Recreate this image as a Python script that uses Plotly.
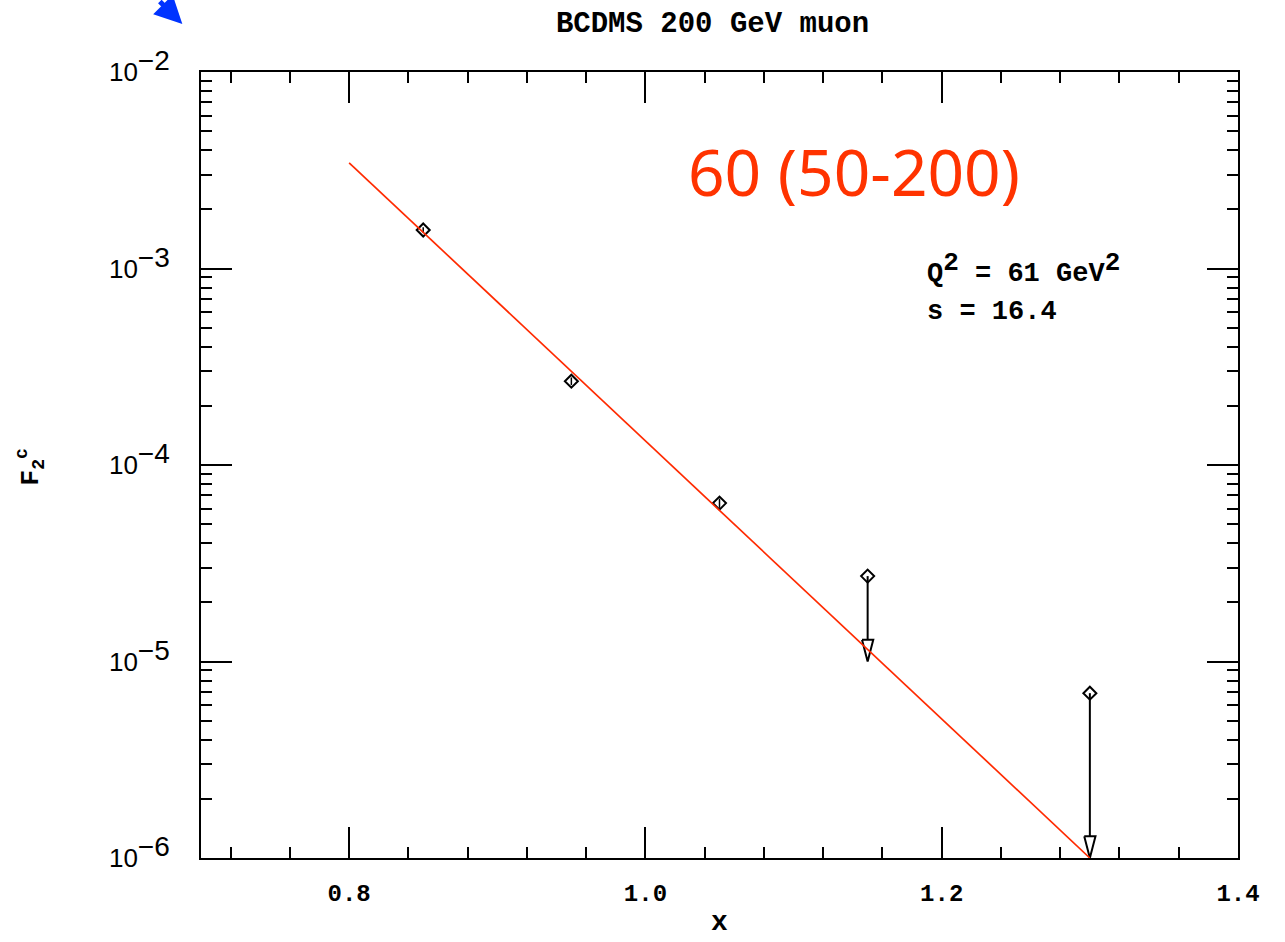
import plotly.graph_objects as go

# ---- data ----
meas_x = [0.85, 0.95, 1.05]
meas_y = [1.57e-3, 2.67e-4, 6.4e-5]
meas_err = [0.05e-3, 0.12e-4, 0.35e-5]

ul_x = [1.15, 1.30]
ul_top = [2.72e-5, 6.9e-6]
ul_tip = [1.0e-5, 1.0e-6]

fit_x = [0.80, 1.30]
fit_y = [3.45e-3, 1.0e-6]

x_ticks = [0.8, 1.0, 1.2, 1.4]
x_ticktext = ["0.8", "1.0", "1.2", "1.4"]
y_ticks = [1e-6, 1e-5, 1e-4, 1e-3, 1e-2]
y_exponents = ["\u22126", "\u22125", "\u22124", "\u22123", "\u22122"]
y_ticktext = ["10<sup><span style='font-size:28px'>" + e + "</span></sup>" for e in y_exponents]

# ---- style constants ----
HEAD_FACTOR = 1.29   # head length as a multiplicative factor in log space
HEAD_HALF = 0.0038   # head half width in x units
MONO = "Liberation Mono"
SANS = "Liberation Sans"

fig = go.Figure()

# measured points with small error bars
fig.add_trace(go.Scatter(
    x=meas_x, y=meas_y, mode="markers",
    marker=dict(symbol="diamond-open", size=10, color="black", line=dict(width=2, color="black")),
    error_y=dict(type="data", array=meas_err, visible=True, width=0, thickness=1.5, color="black"),
    showlegend=False, cliponaxis=False))

# upper-limit points
fig.add_trace(go.Scatter(
    x=ul_x, y=ul_top, mode="markers",
    marker=dict(symbol="diamond-open", size=10, color="black", line=dict(width=2, color="black")),
    showlegend=False, cliponaxis=False))

# arrow shafts and open heads
sx, sy, hx, hy = [], [], [], []
for x, yt, yp in zip(ul_x, ul_top, ul_tip):
    yh = yp * HEAD_FACTOR
    sx += [x, x, None]
    sy += [yt, yh, None]
    hx += [x - HEAD_HALF, x + HEAD_HALF, x, x - HEAD_HALF, None]
    hy += [yh, yh, yp, yh, None]
fig.add_trace(go.Scatter(x=sx, y=sy, mode="lines", line=dict(color="black", width=2),
                         showlegend=False, cliponaxis=False))
fig.add_trace(go.Scatter(x=hx, y=hy, mode="lines", line=dict(color="black", width=2),
                         fill="toself", fillcolor="white", showlegend=False, cliponaxis=False))

# fit line
fig.add_trace(go.Scatter(x=fit_x, y=fit_y, mode="lines", line=dict(color="#ff2a00", width=1.7),
                         showlegend=False, cliponaxis=False))

axis_common = dict(showline=True, linecolor="black", linewidth=2, mirror="allticks",
                   ticks="inside", ticklen=31, tickwidth=2, tickcolor="black",
                   showgrid=False, zeroline=False)

fig.update_xaxes(range=[0.7, 1.4], tickvals=x_ticks, ticktext=x_ticktext,
                 tickfont=dict(family=MONO, size=24, color="black", weight="bold"),
                 ticklabelstandoff=12,
                 minor=dict(ticks="inside", ticklen=11, tickwidth=2, tickcolor="black",
                            tick0=0, dtick=0.04, showgrid=False),
                 **axis_common)
fig.update_yaxes(type="log", range=[-6, -2], tickvals=y_ticks, ticktext=y_ticktext,
                 tickfont=dict(family=SANS, size=26, color="black"),
                 ticklabelstandoff=24,
                 minor=dict(ticks="inside", ticklen=11, tickwidth=2, tickcolor="black",
                            dtick="D1", showgrid=False),
                 **axis_common)

fig.update_layout(
    width=1285, height=942,
    margin=dict(l=201, r=47, t=72, b=84),
    paper_bgcolor="white", plot_bgcolor="white",
    title=dict(text="<b>BCDMS 200 GeV muon</b>", x=0.5545, xanchor="center", y=0.977, yanchor="middle",
               font=dict(family=MONO, size=29, color="black")),
    annotations=[
        dict(text="60 (50-200)", xref="paper", yref="paper", x=0.6298, y=0.873,
             xanchor="center", yanchor="middle", showarrow=False,
             font=dict(family="Noto Sans", size=64, color="#ff3300")),
        dict(text="<b>Q<sup><span style='font-size:26px'>2</span></sup> = 61 GeV<sup><span style='font-size:26px'>2</span></sup></b>",
             xref="paper", yref="paper",
             x=0.6985, y=0.750, xanchor="left", yanchor="middle", showarrow=False,
             font=dict(family=MONO, size=27, color="black")),
        dict(text="<b>s = 16.4</b>", xref="paper", yref="paper",
             x=0.6985, y=0.695, xanchor="left", yanchor="middle", showarrow=False,
             font=dict(family=MONO, size=27, color="black")),
        dict(text="<b>x</b>", xref="paper", yref="paper", x=0.5, y=-0.082,
             xanchor="center", yanchor="middle", showarrow=False,
             font=dict(family=MONO, size=28, color="black")),
        dict(text="<b>F<sub>2</sub><sup>c</sup></b>", xref="paper", yref="paper",
             x=-0.165, y=0.498, xanchor="center", yanchor="middle", textangle=-90,
             showarrow=False, font=dict(family=MONO, size=26, color="black")),
        dict(text="", xref="paper", yref="paper", x=-0.018, y=1.061,
             ax=-24, ay=-32, showarrow=True, arrowhead=2, arrowsize=1.1,
             arrowwidth=5, arrowcolor="#0033ff"),
    ],
)

fig.write_html("out.html")
